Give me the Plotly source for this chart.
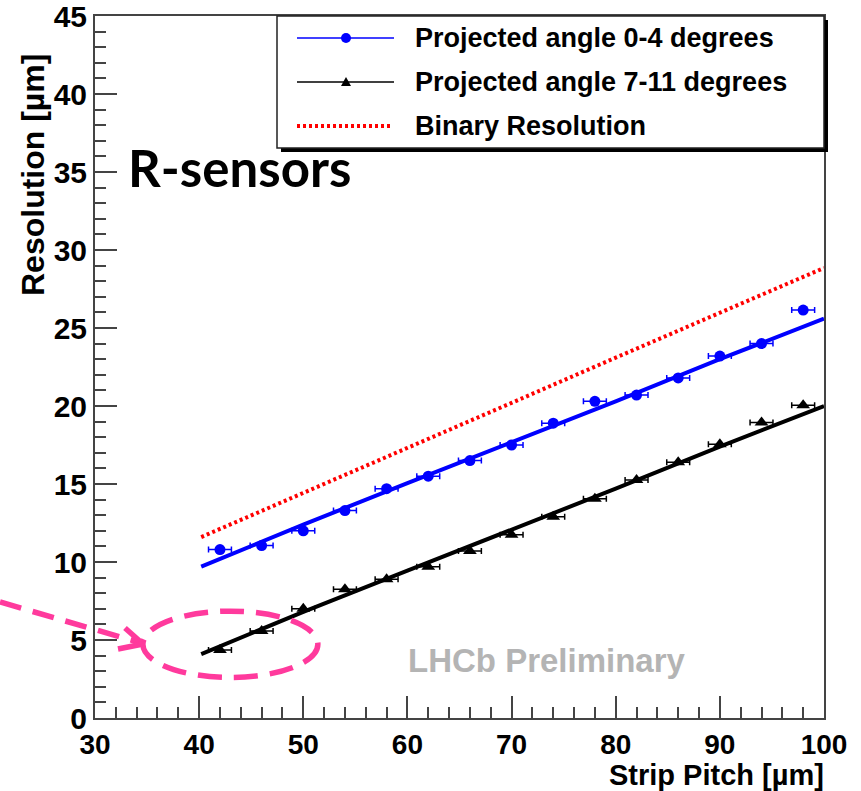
import plotly.graph_objects as go

# ---------------- data ----------------
pitch = [42, 46, 50, 54, 58, 62, 66, 70, 74, 78, 82, 86, 90, 94, 98]
pitch_err = [1.1] * 15
res_0_4 = [10.8, 11.05, 12.0, 13.3, 14.7, 15.5, 16.5, 17.5, 18.9, 20.3, 20.7, 21.8, 23.2, 24.0, 26.15]
res_7_11 = [4.36, 5.58, 7.0, 8.25, 8.9, 9.7, 10.7, 11.75, 12.9, 14.05, 15.25, 16.4, 17.55, 18.95, 20.05]

fit_x = [40.2, 50, 60, 70, 80, 90, 100]
fit_0_4 = [9.7, 12.4, 15.05, 17.65, 20.3, 23.0, 25.6]
fit_7_11 = [4.1, 6.8, 9.45, 12.05, 14.7, 17.4, 20.0]

binary_x = [40.2, 50, 60, 70, 80, 90, 100]
binary_res = [11.6, 14.45, 17.3, 20.2, 23.1, 26.0, 28.85]

legend_labels = ["Projected angle 0-4 degrees", "Projected angle 7-11 degrees", "Binary Resolution"]

BLUE = "#0000ff"
BLACK = "#000000"
RED = "#ff0000"
PINK = "#ff3a9d"
FONT = "Liberation Sans, Arial, Helvetica, sans-serif"

# pixel geometry of plot area
L, R, T, B = 95, 824, 16, 718
W, H = 861, 791


def px(x):
    return (x - L) / (R - L)


def py(y):
    return (B - y) / (B - T)


fig = go.Figure()

fig.add_trace(go.Scatter(x=binary_x, y=binary_res, mode="lines",
                         line=dict(color=RED, width=4, dash="3px,3px"),
                         showlegend=False, hoverinfo="skip"))
fig.add_trace(go.Scatter(x=fit_x, y=fit_0_4, mode="lines",
                         line=dict(color=BLUE, width=4), showlegend=False))
fig.add_trace(go.Scatter(x=fit_x, y=fit_7_11, mode="lines",
                         line=dict(color=BLACK, width=4), showlegend=False))
fig.add_trace(go.Scatter(x=pitch, y=res_0_4, mode="markers",
                         marker=dict(color=BLUE, size=11, symbol="circle"),
                         error_x=dict(type="data", array=pitch_err, color=BLUE, thickness=1.5, width=3),
                         showlegend=False))
fig.add_trace(go.Scatter(x=pitch, y=res_7_11, mode="markers",
                         marker=dict(color=BLACK, size=12, symbol="triangle-up"),
                         error_x=dict(type="data", array=pitch_err, color=BLACK, thickness=1.5, width=3),
                         showlegend=False))

shapes = []
annotations = []

# legend box with shadow
shapes.append(dict(type="rect", xref="paper", yref="paper", layer="above",
                   x0=px(281), x1=px(828), y0=py(20), y1=py(152),
                   fillcolor="black", line=dict(width=0)))
shapes.append(dict(type="rect", xref="paper", yref="paper", layer="above",
                   x0=px(277), x1=px(824), y0=py(16), y1=py(148),
                   fillcolor="white", line=dict(color="#222222", width=1.5)))
rows_y = [38, 82, 126]
colors = [BLUE, BLACK, RED]
for i, (yy, c) in enumerate(zip(rows_y, colors)):
    if i < 2:
        shapes.append(dict(type="line", xref="paper", yref="paper", layer="above",
                           x0=px(297), x1=px(394), y0=py(yy), y1=py(yy),
                           line=dict(color=c, width=1.5)))
    else:
        shapes.append(dict(type="line", xref="paper", yref="paper", layer="above",
                           x0=px(297), x1=px(393), y0=py(yy), y1=py(yy),
                           line=dict(color=c, width=4, dash="3px,3px")))
    annotations.append(dict(xref="paper", yref="paper", x=px(413), y=py(yy),
                            xanchor="left", yanchor="middle", showarrow=False,
                            text=legend_labels[i],
                            font=dict(family=FONT, size=27, color="black", weight="bold")))
# legend markers
shapes.append(dict(type="circle", xref="paper", yref="paper", layer="above",
                   x0=px(341), x1=px(351), y0=py(33), y1=py(43),
                   fillcolor=BLUE, line=dict(color=BLUE, width=0)))
shapes.append(dict(type="path", xref="paper", yref="paper", layer="above",
                   path=f"M {px(341)},{py(86)} L {px(351)},{py(86)} L {px(346)},{py(77)} Z",
                   fillcolor=BLACK, line=dict(color=BLACK, width=0)))

# pink dashed ellipse and arrow
shapes.append(dict(type="circle", xref="x", yref="y", layer="above",
                   x0=34.6, x1=51.4, y0=2.6, y1=6.85,
                   line=dict(color=PINK, width=5.5, dash="24px,12px")))
shapes.append(dict(type="line", xref="paper", yref="paper", layer="above",
                   x0=px(0), y0=py(602), x1=px(141), y1=py(643),
                   line=dict(color=PINK, width=5.5, dash="22px,12px")))
shapes.append(dict(type="line", xref="paper", yref="paper", layer="above",
                   x0=px(125), y0=py(628), x1=px(143), y1=py(644),
                   line=dict(color=PINK, width=5.5)))
shapes.append(dict(type="line", xref="paper", yref="paper", layer="above",
                   x0=px(118), y0=py(649), x1=px(143), y1=py(644),
                   line=dict(color=PINK, width=5.5)))

# texts
annotations.append(dict(xref="paper", yref="paper", x=px(126), y=py(168),
                        xanchor="left", yanchor="middle", showarrow=False,
                        text="R-sensors",
                        font=dict(family="Comic Sans MS, Lato, sans-serif", size=51,
                                  color="black", weight="bold")))
annotations.append(dict(xref="paper", yref="paper", x=px(406), y=py(660),
                        xanchor="left", yanchor="middle", showarrow=False,
                        text="LHCb Preliminary",
                        font=dict(family=FONT, size=33, color="#b4b4b4", weight="bold")))
annotations.append(dict(xref="paper", yref="paper", x=px(826), y=py(774.5),
                        xanchor="right", yanchor="middle", showarrow=False,
                        text="Strip Pitch [µm]",
                        font=dict(family=FONT, size=29, color="black", weight="bold")))
annotations.append(dict(xref="paper", yref="paper", x=px(33), y=py(52),
                        xanchor="center", yanchor="top", showarrow=False, textangle=-90,
                        text="Resolution [µm]",
                        font=dict(family=FONT, size=32, color="black", weight="bold")))

axis_common = dict(showgrid=False, zeroline=False, showline=True, mirror=True,
                   linecolor="#444444", linewidth=2, ticks="inside", ticklen=22,
                   tickwidth=1.5, tickcolor="#444444", ticklabeloverflow="allow",
                   automargin=False)

fig.update_layout(
    width=W, height=H,
    margin=dict(l=L, r=W - R, t=T, b=H - B, pad=0, autoexpand=False),
    paper_bgcolor="white", plot_bgcolor="white",
    showlegend=False,
    xaxis=dict(range=[30, 100], tickvals=[30, 40, 50, 60, 70, 80, 90, 100],
               tickfont=dict(family=FONT, size=28, color="black", weight="bold"),
               minor=dict(dtick=2, tick0=30, ticks="inside", ticklen=11, tickwidth=1.5,
                          tickcolor="#444444"),
               **axis_common),
    yaxis=dict(range=[0, 45], tickvals=[0, 5, 10, 15, 20, 25, 30, 35, 40, 45],
               tickfont=dict(family=FONT, size=30, color="black", weight="bold"),
               minor=dict(dtick=1, tick0=0, ticks="inside", ticklen=11, tickwidth=1.5,
                          tickcolor="#444444"),
               **axis_common),
    shapes=shapes,
    annotations=annotations,
)

fig.write_html("out.html")
